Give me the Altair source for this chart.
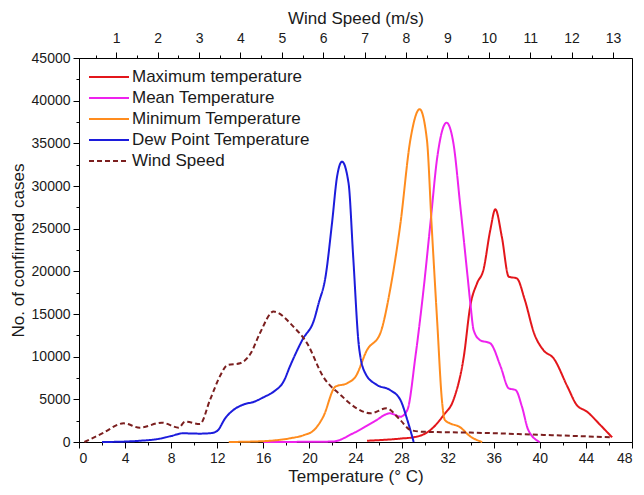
import altair as alt
import pandas as pd

# ---------------- data ----------------
series_names = ["Maximum temperature", "Mean Temperature", "Minimum Temperature",
                "Dew Point Temperature", "Wind Speed"]
series_colors = ["#e3161b", "#ee22ee", "#ff8c1e", "#1c1cdc", "#7b1f1f"]

max_t = [25, 27.9, 29.3, 30.5, 31.65, 32.5, 33.4, 33.97, 34.55, 35.1, 35.7, 36.14,
         36.7, 37.3, 38.0, 38.7, 39.5, 40.3, 41.2, 42.4, 43.2, 44.1, 45.25, 46.27]
max_v = [150, 400, 620, 1400, 3160, 4920, 10000, 16000, 18600, 20150, 24840, 27270,
         24060, 19370, 19180, 16640, 12740, 10780, 9800, 6480, 4340, 3550, 1990, 550]

mean_t = [16, 22, 23.8, 25.6, 27.0, 27.9, 28.5, 29.2, 29.9, 30.5, 31.1, 31.9, 32.5,
          33.1, 33.7, 34.0, 34.25, 34.8, 35.7, 36.6, 37.3, 37.9, 38.45, 39.0, 40.0]
mean_v = [0, 50, 1020, 2380, 3360, 2970, 3750, 10000, 17800, 25600, 33400, 37420, 35000,
          27600, 19770, 15860, 13130, 11950, 11560, 8830, 6290, 6090, 4140, 1400, 0]

min_t = [13, 16, 18.3, 19.5, 20.4, 21.2, 22.25, 23.26, 24.0, 25.0, 26.15, 27.0, 27.9,
         28.76, 29.57, 30.2, 30.6, 31.1, 31.5, 31.75, 32.2, 33.0, 34.0, 35.0]
min_v = [0, 100, 430, 800, 1400, 2960, 6480, 6880, 7650, 10780, 12740, 17800, 25600,
         35400, 39000, 35400, 25600, 13900, 4920, 2600, 2190, 1800, 620, 0]

dew_t = [2, 4, 5, 7, 8, 9, 10.5, 11.5, 12, 12.7, 13.4, 14.3, 15.2, 16.1, 16.9, 17.8,
         18.3, 19.4, 20.4, 20.8, 21.4, 21.96, 22.4, 22.83, 23.4, 23.8, 24.3, 24.85,
         25.87, 27.0, 27.9, 28.5, 29.05]
dew_v = [0, 50, 120, 390, 700, 1020, 980, 1050, 1300, 2800, 3750, 4400, 4720, 5300, 5900,
         7200, 8830, 12000, 14300, 16250, 19380, 25630, 31100, 32850, 30300, 21700, 11170,
         8050, 6680, 6090, 4920, 2580, 0]

# wind speed in m/s (top axis)
wind_w = [0.23, 0.66, 1.18, 1.57, 2.10, 2.51, 2.66, 3.02, 3.27, 3.52, 3.68, 3.99, 4.25,
          4.47, 4.80, 5.28, 5.61, 6.00, 6.42, 6.81, 7.14, 7.53, 7.86, 8.11, 8.42, 9.56,
          11.23, 12.98]
wind_v = [0, 1000, 2190, 1680, 2270, 1680, 2380, 2100, 5000, 7850, 9000, 9220, 10400,
          12740, 15280, 13520, 11570, 7650, 5510, 3950, 3360, 3950, 2580, 1400, 1200, 1100,
          850, 550]

temp_ticks = list(range(0, 49, 2))
wind_ticks = [x / 2 for x in range(1, 27)]
case_ticks = list(range(0, 45001, 2500))

# ---------------- tables ----------------
rows = []
for name, ts, vs in [(series_names[0], max_t, max_v), (series_names[1], mean_t, mean_v),
                     (series_names[2], min_t, min_v), (series_names[3], dew_t, dew_v)]:
    for t, v in zip(ts, vs):
        rows.append({"t": t, "v": v, "series": name})
temp_df = pd.DataFrame(rows)
wind_df = pd.DataFrame({"w": wind_w, "v": wind_v, "series": series_names[4]})

FONT = "Liberation Sans"
TXT = "#1a1a1a"

color_scale = alt.Scale(domain=series_names, range=series_colors)
dash_scale = alt.Scale(domain=series_names, range=[[1, 0], [1, 0], [1, 0], [1, 0], [5, 3]])

legend = alt.Legend(
    title=None, orient="none", legendX=19, legendY=8, padding=0,
    symbolType="M-2,0H2", symbolSize=400, symbolStrokeWidth=2,
    labelFont=FONT, labelFontSize=17, labelColor=TXT, labelOffset=12, rowPadding=2,
    labelLimit=0,
)

y_enc = alt.Y(
    "v:Q",
    scale=alt.Scale(domain=[0, 45000], nice=False),
    axis=alt.Axis(
        title="No. of confirmed cases", values=case_ticks, format="d",
        labelExpr="datum.value % 5000 === 0 ? datum.label : ''",
        tickSize={"condition": {"test": "datum.value % 5000 === 0", "value": 6}, "value": 3},
        grid=False, titlePadding=4, labelPadding=3,
    ),
)

temp = alt.Chart(temp_df).mark_line(interpolate="monotone", strokeWidth=2).encode(
    x=alt.X(
        "t:Q",
        scale=alt.Scale(domain=[0, 48], nice=False),
        axis=alt.Axis(
            title="Temperature (° C)", values=temp_ticks, orient="bottom",
            labelExpr="datum.value % 4 === 0 ? datum.label : ''",
            tickSize={"condition": {"test": "datum.value % 4 === 0", "value": 6}, "value": 3},
            grid=False, labelPadding=3, titlePadding=3,
        ),
    ),
    y=y_enc,
    color=alt.Color("series:N", scale=color_scale, legend=legend),
    strokeDash=alt.StrokeDash("series:N", scale=dash_scale, legend=legend),
)

wind = alt.Chart(wind_df).mark_line(interpolate="monotone", strokeWidth=2).encode(
    x=alt.X(
        "w:Q",
        scale=alt.Scale(domain=[0.1, 13.46], nice=False, zero=False),
        axis=alt.Axis(
            title="Wind Speed (m/s)", values=wind_ticks, orient="top",
            labelExpr="datum.value % 1 === 0 ? format(datum.value, 'd') : ''",
            tickSize={"condition": {"test": "datum.value % 1 === 0", "value": 6}, "value": 3},
            grid=False, labelPadding=7, titlePadding=4,
        ),
    ),
    y=y_enc,
    color=alt.Color("series:N", scale=color_scale, legend=legend),
    strokeDash=alt.StrokeDash("series:N", scale=dash_scale, legend=legend),
)

chart = (
    alt.layer(temp, wind)
    .resolve_scale(x="independent")
    .properties(
        width=553, height=384,
        padding={"left": 71, "top": 50, "right": 4, "bottom": 44},
        autosize=alt.AutoSizeParams(type="none"),
        background="white",
    )
    .configure_view(stroke="black", strokeWidth=1)
    .configure_axis(
        domainColor="black", domainWidth=1, tickColor="black", tickWidth=1,
        labelFont=FONT, labelFontSize=14, labelColor=TXT,
        titleFont=FONT, titleFontSize=17, titleFontWeight="normal", titleColor=TXT,
    )
)

chart.save("out.html", embed_options={"renderer": "svg", "actions": False})
